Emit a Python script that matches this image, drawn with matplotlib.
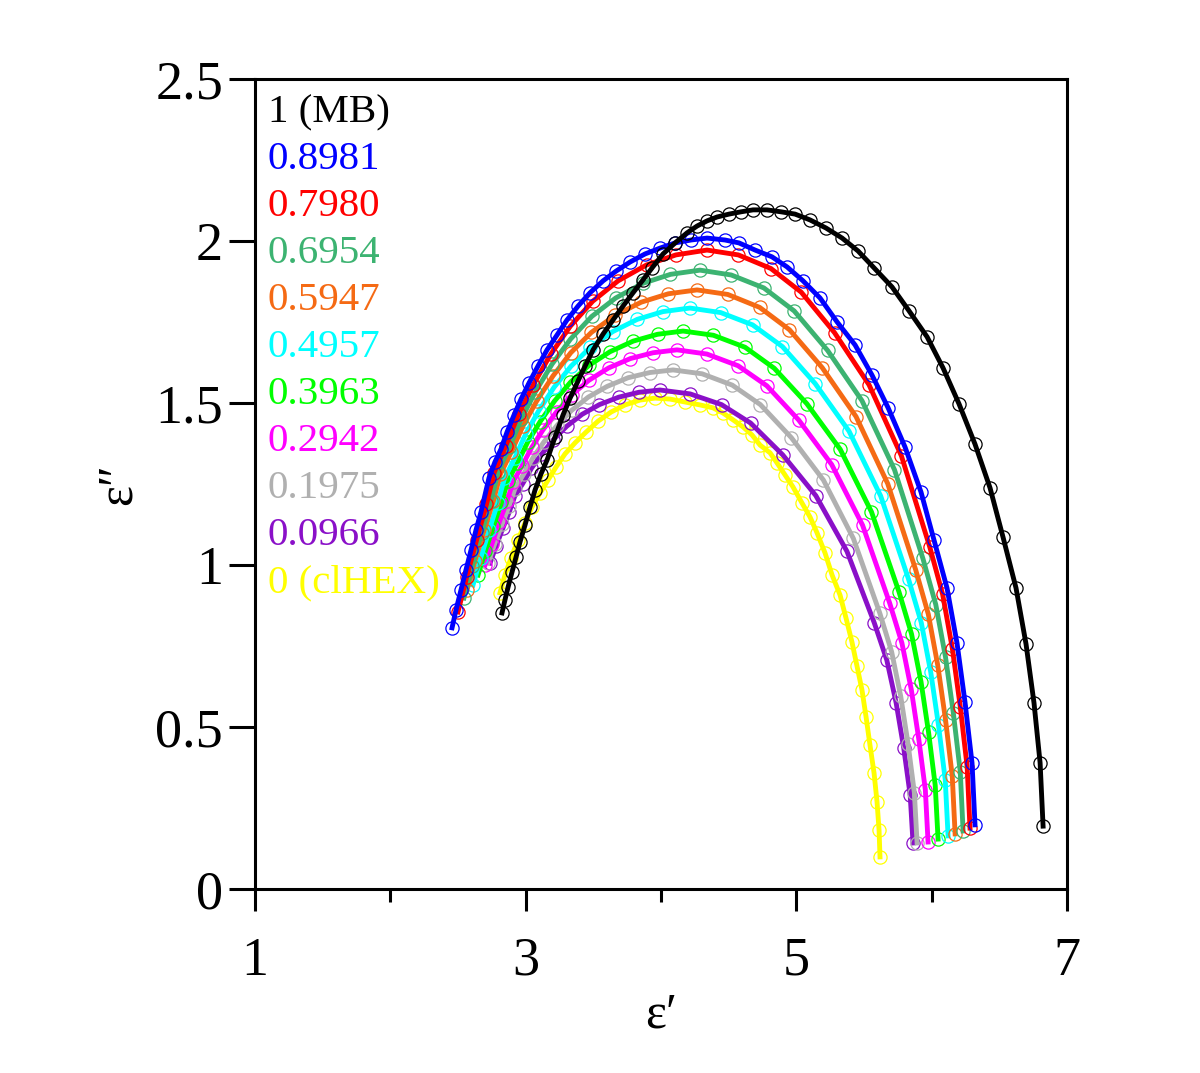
import matplotlib
matplotlib.use('Agg')
import matplotlib.pyplot as plt

plt.rcParams['font.family'] = ['Liberation Serif', 'DejaVu Serif']

# epsilon' / epsilon'', one pair of lists per mixture
e1_1000 = [2.825, 2.847, 2.870, 2.899, 2.929, 2.958, 2.995, 3.032, 3.069, 3.113, 3.158, 3.217, 3.276, 3.328,
           3.387, 3.439, 3.498, 3.572, 3.645, 3.719, 3.793, 3.867, 3.934, 4.015, 4.104, 4.192, 4.266, 4.340,
           4.414, 4.503, 4.591, 4.680, 4.783, 4.887, 4.990, 5.101, 5.219, 5.338, 5.456, 5.574, 5.707, 5.833,
           5.966, 6.084, 6.202, 6.320, 6.431, 6.527, 6.623, 6.697, 6.756, 6.801, 6.823]
e2_1000 = [0.852, 0.892, 0.932, 0.978, 1.025, 1.071, 1.123, 1.179, 1.231, 1.281, 1.324, 1.395, 1.463, 1.515,
           1.568, 1.614, 1.664, 1.713, 1.756, 1.799, 1.840, 1.880, 1.917, 1.960, 1.994, 2.025, 2.046, 2.062,
           2.074, 2.083, 2.090, 2.096, 2.096, 2.090, 2.083, 2.065, 2.040, 2.009, 1.969, 1.917, 1.858, 1.784,
           1.704, 1.608, 1.497, 1.373, 1.238, 1.086, 0.929, 0.756, 0.574, 0.389, 0.194]

e1_0898 = [2.456, 2.485, 2.522, 2.559, 2.596, 2.633, 2.670, 2.729, 2.773, 2.818, 2.862, 2.914, 2.966, 3.025,
           3.091, 3.158, 3.232, 3.305, 3.387, 3.475, 3.572, 3.668, 3.771, 3.882, 3.993, 4.104, 4.222, 4.340,
           4.473, 4.576, 4.695, 4.820, 4.931, 5.049, 5.175, 5.301, 5.434, 5.559, 5.678, 5.803, 5.921, 6.017,
           6.113, 6.187, 6.246, 6.298, 6.320]
e2_0898 = [0.806, 0.861, 0.923, 0.985, 1.046, 1.108, 1.164, 1.269, 1.318, 1.358, 1.410, 1.463, 1.512, 1.562,
           1.614, 1.664, 1.710, 1.756, 1.799, 1.840, 1.877, 1.907, 1.935, 1.960, 1.978, 1.994, 2.003, 2.009,
           2.003, 1.994, 1.972, 1.951, 1.920, 1.877, 1.824, 1.750, 1.679, 1.586, 1.485, 1.364, 1.225, 1.077,
           0.929, 0.759, 0.577, 0.389, 0.198]

e1_0798 = [2.500, 2.564, 2.638, 2.710, 2.767, 2.853, 2.947, 3.056, 3.186, 3.330, 3.495, 3.683, 3.893, 4.110,
           4.340, 4.571, 4.812, 5.036, 5.282, 5.537, 5.776, 5.986, 6.081, 6.153, 6.211, 6.262, 6.283]
e2_0798 = [0.855, 0.963, 1.078, 1.187, 1.285, 1.368, 1.465, 1.556, 1.651, 1.737, 1.814, 1.877, 1.926, 1.957,
           1.972, 1.957, 1.915, 1.842, 1.717, 1.556, 1.337, 1.055, 0.909, 0.741, 0.563, 0.377, 0.188]

e1_0695 = [2.544, 2.605, 2.675, 2.743, 2.797, 2.879, 2.968, 3.071, 3.195, 3.331, 3.488, 3.665, 3.864, 4.070,
           4.288, 4.519, 4.760, 4.984, 5.231, 5.485, 5.725, 5.935, 6.030, 6.102, 6.160, 6.211, 6.232]
e2_0695 = [0.898, 0.996, 1.100, 1.199, 1.288, 1.363, 1.451, 1.534, 1.620, 1.697, 1.767, 1.824, 1.869, 1.897,
           1.910, 1.895, 1.855, 1.784, 1.662, 1.507, 1.294, 1.020, 0.878, 0.716, 0.543, 0.362, 0.179]

e1_0595 = [2.567, 2.626, 2.694, 2.761, 2.813, 2.893, 2.980, 3.080, 3.201, 3.333, 3.486, 3.659, 3.853, 4.054,
           4.266, 4.493, 4.729, 4.949, 5.191, 5.441, 5.675, 5.881, 5.975, 6.045, 6.102, 6.152, 6.173]
e2_0595 = [0.923, 1.013, 1.108, 1.198, 1.280, 1.348, 1.429, 1.505, 1.583, 1.655, 1.718, 1.770, 1.811, 1.837,
           1.849, 1.835, 1.795, 1.726, 1.609, 1.458, 1.251, 0.986, 0.848, 0.690, 0.523, 0.348, 0.170]

e1_0496 = [2.611, 2.667, 2.731, 2.794, 2.843, 2.919, 3.001, 3.095, 3.209, 3.334, 3.478, 3.642, 3.824, 4.014,
           4.214, 4.441, 4.677, 4.897, 5.139, 5.389, 5.623, 5.829, 5.923, 5.993, 6.050, 6.100, 6.121]
e2_0496 = [0.938, 1.021, 1.109, 1.192, 1.267, 1.330, 1.405, 1.475, 1.548, 1.613, 1.672, 1.720, 1.758, 1.782,
           1.793, 1.779, 1.741, 1.674, 1.560, 1.413, 1.213, 0.956, 0.822, 0.669, 0.506, 0.337, 0.164]

e1_0396 = [2.648, 2.701, 2.762, 2.821, 2.868, 2.939, 3.016, 3.106, 3.213, 3.331, 3.468, 3.622, 3.795, 3.974,
           4.163, 4.387, 4.621, 4.837, 5.077, 5.324, 5.555, 5.759, 5.851, 5.921, 5.977, 6.026, 6.047]
e2_0396 = [0.969, 1.042, 1.120, 1.193, 1.259, 1.315, 1.380, 1.442, 1.506, 1.564, 1.616, 1.658, 1.691, 1.712,
           1.722, 1.709, 1.672, 1.607, 1.498, 1.357, 1.164, 0.916, 0.787, 0.640, 0.483, 0.320, 0.154]

e1_0294 = [2.700, 2.750, 2.806, 2.862, 2.906, 2.972, 3.045, 3.128, 3.229, 3.340, 3.467, 3.612, 3.773, 3.941,
           4.118, 4.339, 4.569, 4.782, 5.018, 5.261, 5.489, 5.689, 5.780, 5.849, 5.904, 5.953, 5.973]
e2_0294 = [1.000, 1.064, 1.133, 1.197, 1.256, 1.305, 1.363, 1.417, 1.473, 1.525, 1.570, 1.608, 1.637, 1.655,
           1.664, 1.651, 1.615, 1.553, 1.447, 1.310, 1.123, 0.883, 0.759, 0.616, 0.464, 0.306, 0.145]

e1_0198 = [2.722, 2.770, 2.825, 2.878, 2.920, 2.984, 3.054, 3.135, 3.232, 3.339, 3.462, 3.601, 3.757, 3.918,
           4.089, 4.304, 4.527, 4.734, 4.963, 5.200, 5.421, 5.616, 5.704, 5.771, 5.825, 5.872, 5.892]
e2_0198 = [1.006, 1.064, 1.125, 1.183, 1.235, 1.280, 1.331, 1.380, 1.431, 1.477, 1.518, 1.551, 1.578, 1.594,
           1.602, 1.590, 1.555, 1.495, 1.393, 1.262, 1.082, 0.852, 0.732, 0.595, 0.449, 0.297, 0.142]

e1_0097 = [2.737, 2.781, 2.831, 2.880, 2.919, 2.978, 3.042, 3.116, 3.205, 3.303, 3.417, 3.545, 3.688, 3.836,
           3.993, 4.215, 4.447, 4.662, 4.899, 5.144, 5.374, 5.576, 5.668, 5.737, 5.793, 5.841, 5.862]
e2_0097 = [1.006, 1.058, 1.113, 1.165, 1.212, 1.251, 1.298, 1.341, 1.387, 1.428, 1.465, 1.495, 1.518, 1.533,
           1.540, 1.528, 1.495, 1.438, 1.340, 1.214, 1.042, 0.821, 0.707, 0.575, 0.436, 0.290, 0.142]

e1_0000 = [2.810, 2.847, 2.892, 2.943, 2.995, 3.047, 3.106, 3.165, 3.224, 3.291, 3.365, 3.446, 3.535, 3.631,
           3.734, 3.845, 3.956, 4.067, 4.177, 4.288, 4.384, 4.458, 4.532, 4.606, 4.673, 4.732, 4.806, 4.857,
           4.916, 4.975, 5.042, 5.101, 5.153, 5.212, 5.264, 5.323, 5.367, 5.411, 5.448, 5.485, 5.515, 5.544,
           5.574, 5.596, 5.611, 5.618]
e2_0000 = [0.914, 0.969, 1.022, 1.077, 1.130, 1.179, 1.222, 1.262, 1.302, 1.343, 1.377, 1.410, 1.444, 1.472,
           1.494, 1.509, 1.515, 1.512, 1.503, 1.494, 1.485, 1.469, 1.448, 1.426, 1.401, 1.370, 1.346, 1.315,
           1.278, 1.241, 1.191, 1.148, 1.099, 1.037, 0.969, 0.907, 0.836, 0.762, 0.688, 0.614, 0.531, 0.444,
           0.358, 0.269, 0.182, 0.099]

labels = ['1 (MB)', '0.8981', '0.7980', '0.6954', '0.5947', '0.4957',
          '0.3963', '0.2942', '0.1975', '0.0966', '0 (clHEX)']
colors = ['#000000', '#0000ff', '#ff0000', '#3cb371', '#f56a14', '#00ffff',
          '#00ff00', '#ff00ff', '#b0b0b0', '#8a10c8', '#ffff00']
series = [(e1_1000, e2_1000), (e1_0898, e2_0898), (e1_0798, e2_0798), (e1_0695, e2_0695),
          (e1_0595, e2_0595), (e1_0496, e2_0496), (e1_0396, e2_0396), (e1_0294, e2_0294),
          (e1_0198, e2_0198), (e1_0097, e2_0097), (e1_0000, e2_0000)]

xticks = [1, 3, 5, 7]
xminor = [2, 4, 6]
yticks = [0, 0.5, 1, 1.5, 2, 2.5]
ytick_labels = ['0', '0.5', '1', '1.5', '2', '2.5']

fig = plt.figure(figsize=(12, 10.73), dpi=100)
ax = fig.add_axes([0.2125, 0.1715, 0.6767, 0.7549])

# yellow first, blue on top of the bundle, black last
for i in list(range(len(series) - 1, 0, -1)) + [0]:
    x, y = series[i]
    c = colors[i]
    ax.plot(x, y, linestyle='none', marker='o', markersize=9.5, markerfacecolor='none',
            markeredgecolor=c, markeredgewidth=0.9, zorder=2 + 0.1 * (11 - i))
    ax.plot(x, y, color=c, linewidth=3.5, zorder=2.05 + 0.1 * (11 - i))

ax.set_xlim(1, 7)
ax.set_ylim(0, 2.5)
ax.set_xticks(xticks)
ax.set_xticks(xminor, minor=True)
ax.set_xticklabels([str(v) for v in xticks])
ax.set_yticks(yticks)
ax.set_yticklabels(ytick_labels)

for s in ax.spines.values():
    s.set_linewidth(2.2)
ax.tick_params(axis='both', which='major', direction='out', width=2.2, labelsize=39)
ax.tick_params(axis='x', which='major', length=16, pad=18)
ax.tick_params(axis='x', which='minor', direction='out', length=9, width=2.2)
ax.tick_params(axis='y', which='major', length=19, pad=4)

ax.set_xlabel('ε′', fontsize=36, labelpad=4)
ax.set_ylabel('ε″', fontsize=36, labelpad=10)

for i, lab in enumerate(labels):
    ax.text(0.016, 0.958 - i * 0.058, lab, color=colors[i], fontsize=29.5,
            ha='left', va='center', transform=ax.transAxes)

fig.savefig('out.png', dpi=100)
